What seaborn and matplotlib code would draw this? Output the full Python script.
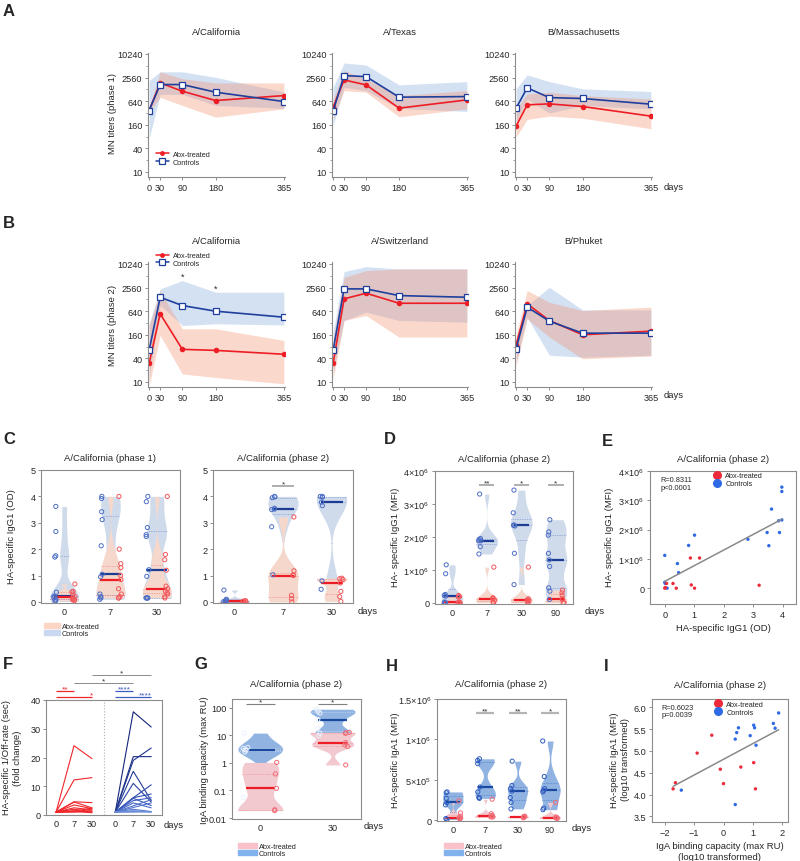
import matplotlib
matplotlib.use("Agg")
import matplotlib.pyplot as plt
from matplotlib.lines import Line2D
from matplotlib.patches import Patch
import matplotlib.ticker as mticker
import pandas as pd
import seaborn as sns

sns.set_style("ticks")
plt.rcParams["font.family"] = ["Liberation Sans", "DejaVu Sans"]
plt.rcParams["mathtext.fontset"] = "custom"
plt.rcParams["mathtext.rm"] = "Liberation Sans"
plt.rcParams["mathtext.it"] = "Liberation Sans:italic"

# ---------------- data ----------------
# A / B : MN titers (geometric mean with range band)
days = [0, 30, 90, 180, 365]
titre_ticks = [10, 40, 160, 640, 2560, 10240]
titre_minor = [20, 80, 320, 1280, 5120]

a1_abx = [370, 1870, 1150, 665, 890]
a1_abx_lo = [330, 800, 500, 250, 410]
a1_abx_hi = [410, 3600, 2400, 1870, 1870]
a1_ctl = [370, 1700, 1700, 1085, 627]
a1_ctl_lo = [70, 950, 960, 500, 420]
a1_ctl_hi = [2150, 3600, 3600, 2600, 1100]

a2_abx = [450, 2230, 1670, 425, 690]
a2_abx_lo = [227, 1190, 1085, 256, 408]
a2_abx_hi = [730, 3850, 2370, 890, 1190]
a2_ctl = [356, 2880, 2710, 810, 840]
a2_ctl_lo = [154, 1450, 1190, 420, 350]
a2_ctl_hi = [1450, 6050, 5370, 1670, 2020]

a3_abx = [148, 516, 547, 468, 266]
a3_abx_lo = [78, 219, 266, 235, 127]
a3_abx_hi = [408, 985, 1085, 890, 730]
a3_ctl = [425, 1400, 790, 750, 537]
a3_ctl_lo = [187, 730, 320, 496, 408]
a3_ctl_hi = [1320, 3000, 2020, 1320, 1130]

b1_abx = [30, 547, 68, 64, 51]
b1_abx_lo = [8, 154, 16, 13, 9]
b1_abx_hi = [276, 2150, 227, 227, 115]
b1_ctl = [64, 1450, 890, 640, 450]
b1_ctl_lo = [12, 900, 276, 305, 285]
b1_ctl_hi = [305, 2370, 3850, 1950, 1950]

b2_abx = [30, 1320, 1840, 1020, 1020]
b2_abx_lo = [12, 370, 496, 140, 140]
b2_abx_hi = [127, 4680, 6940, 7650, 7650]
b2_ctl = [64, 2370, 2370, 1600, 1450]
b2_ctl_lo = [18, 370, 604, 370, 336]
b2_ctl_hi = [187, 6530, 8750, 7650, 7650]

b3_abx = [89, 985, 370, 160, 198]
b3_abx_lo = [26, 408, 140, 39, 46]
b3_abx_hi = [154, 2150, 1080, 665, 810]
b3_ctl = [70, 810, 356, 176, 176]
b3_ctl_lo = [32, 450, 48, 43, 48]
b3_ctl_hi = [127, 890, 2610, 690, 690]

# C : HA-specific IgG1 (OD)
c_days = ["0", "7", "30"]
c1_ctl = [[3.62, 2.67, 1.75, 1.7, 0.37, 0.22, 0.2, 0.15, 0.1, 0.05, 0.02],
          [4.0, 3.92, 3.42, 3.12, 2.13, 1.05, 0.95, 0.3, 0.2, 0.15, 0.1],
          [4.0, 3.8, 2.82, 2.55, 2.48, 1.22, 0.97, 0.15, 0.15, 0.15, 0.15]]
c1_abx = [[0.68, 0.4, 0.38, 0.3, 0.2, 0.15, 0.12, 0.1, 0.08, 0.05],
          [4.0, 2.0, 1.45, 1.3, 1.0, 0.85, 0.5, 0.3, 0.2, 0.15, 0.15],
          [4.0, 1.8, 1.6, 1.2, 0.6, 0.5, 0.4, 0.35, 0.3, 0.2, 0.15]]
c2_ctl = [[0.45, 0.1, 0.08, 0.05, 0.02, 0.0, 0.0],
          [4.0, 3.98, 3.95, 3.55, 3.52, 3.5, 2.85, 1.03],
          [4.0, 4.0, 3.97, 3.78, 3.65, 0.8, 0.48]]
c2_abx = [[0.05, 0.03, 0.02, 0.0, 0.0],
          [3.22, 1.18, 1.02, 1.0, 0.25, 0.12, 0.0],
          [0.9, 0.88, 0.85, 0.72, 0.4, 0.2, 0.02]]

# D : HA-specific IgG1 (MFI)
d_days = ["0", "7", "30", "90"]
d_ctl = [[1.15e6, 0.88e6, 0.25e6, 0.22e6, 0.2e6, 0.02e6, 0, 0],
         [3.3e6, 1.95e6, 1.92e6, 1.88e6, 1.88e6, 1.7e6, 1.48e6],
         [3.42e6, 2.73e6, 2.36e6, 2.35e6, 2.33e6, 1.5e6, 0.55e6],
         [2.52e6, 2.15e6, 2.05e6, 1.5e6, 1.3e6, 1.1e6, 0.45e6, 0.35e6, 0.1e6]]
d_abx = [[0.22e6, 0.18e6, 0.17e6, 0.02e6, 0, 0, 0],
         [1.08e6, 0.15e6, 0.12e6, 0.12e6, 0.08e6, 0.02e6, 0],
         [1.08e6, 0.12e6, 0.08e6, 0.08e6, 0.05e6, 0.02e6, 0],
         [0.38e6, 0.3e6, 0.22e6, 0.12e6, 0.1e6, 0, 0]]

# E : OD vs MFI
e_abx_x = [0.0, 0.06, 0.28, 0.39, 0.87, 0.90, 1.01, 1.18, 3.20, 0.02]
e_abx_y = [0.0, 0.16e6, 0.16e6, 0.0, 1.03e6, 0.11e6, 0.0, 1.03e6, 0.10e6, 0.02e6]
e_ctl_x = [0.0, 0.43, 0.47, 0.81, 1.01, 2.82, 3.47, 3.53, 3.62, 3.86, 3.89,
           3.97, 3.97, 3.97, 0.0, 0.08, 0.02]
e_ctl_y = [1.12e6, 0.84e6, 0.53e6, 1.46e6, 1.81e6, 1.67e6, 1.90e6, 1.45e6,
           2.70e6, 2.30e6, 1.90e6, 2.33e6, 3.30e6, 3.45e6, 0.20e6, 0.0, 0.16e6]

# F : 1/off-rate fold change per subject (day 0, 7, 30)
f_days = ["0", "7", "30"]
f_abx = [[1, 24.1, 19.6], [1, 12.2, 13.0], [1, 4.6, 4.3], [1, 4.5, 2.5],
         [1, 3.5, 2.2], [1, 2.5, 1.8], [1, 2.0, 1.2], [1, 1.5, 1.0],
         [1, 1.2, 0.8], [1, 1.0, 1.5], [1, 1.3, 2.4]]
f_ctl = [[1, 35.9, 30.6], [1, 20.3, 20.3], [1, 19.0, 23.3], [1, 15.2, 5.0],
         [1, 11.0, 4.5], [1, 6.0, 10.5], [1, 6.0, 7.3], [1, 5.8, 3.3],
         [1, 5.0, 6.0], [1, 4.2, 2.5], [1, 3.2, 5.3], [1, 2.6, 4.2],
         [1, 2.0, 1.2], [1, 1.5, 1.1], [1, 1.2, 1.0], [1, 1.0, 1.2]]

# G : IgA binding capacity (max RU)
g_days = ["0", "30"]
g_ctl = [[12.2, 3.7, 3.4, 3.0, 2.96, 2.5, 0.057],
         [90, 75, 65, 38, 18, 12, 9.8]]
g_abx = [[1.05, 0.4, 0.12, 0.02, 0.0186],
         [13, 12.5, 12, 5.5, 4.5, 4.0, 0.85]]

# H : HA-specific IgA1 (MFI)
h_days = ["0", "7", "30", "90"]
h_ctl = [[3.5e5, 3.4e5, 2.7e5, 2.2e5, 1.9e5, 0.2e5, 0.1e5],
         [7.6e5, 7.4e5, 7.0e5, 4.1e5, 3.5e5, 2.8e5, 2.7e5],
         [7.3e5, 4.3e5, 3.9e5, 3.6e5, 2.8e5, 2.2e5, 1.4e5],
         [9.8e5, 5.4e5, 3.9e5, 3.7e5, 3.5e5, 1.5e5, 1.3e5]]
h_abx = [[2.4e5, 0.9e5, 0.5e5, 0.3e5, 0.3e5, 0.2e5, 0.2e5],
         [2.6e5, 0.8e5, 0.6e5, 0.5e5, 0.5e5, 0.4e5, 0.4e5],
         [0.5e5, 0.45e5, 0.4e5, 0.35e5, 0.3e5],
         [2.2e5, 0.4e5, 0.3e5, 0.3e5, 0.2e5]]

# I : log10 IgA capacity vs log10 IgA1 MFI
i_abx_x = [-1.72, -1.64, -0.90, -0.40, -0.11, 0.0, 0.59, 1.03, 1.09]
i_abx_y = [4.13, 4.27, 4.95, 5.36, 4.58, 4.25, 4.63, 4.73, 4.13]
i_ctl_x = [-1.44, 0.40, 0.40, 0.45, 0.51, 0.91, 1.03, 1.06, 1.11, 1.70, 1.76, 1.88]
i_ctl_y = [4.10, 3.77, 5.27, 5.42, 5.53, 5.35, 5.59, 5.53, 5.13, 5.63, 5.52, 5.87]

# ---------------- style ----------------
RED = "#ee1d25"
BLUE = "#1f3f9c"
RED_BAND = "#f3906e"
BLUE_BAND = "#86aade"
SPINE = "#8c8c8c"
GROUPS = ["Controls", "Abx-treated"]
TICK_FS = 6.6
LAB_FS = 6.8

W, H = 800, 862
fig = plt.figure(figsize=(8, 8.62), dpi=100)


def add_ax(l, t, r, b):
    return fig.add_axes([l / W, 1 - b / H, (r - l) / W, (b - t) / H])


def fig_text(x, y, s, **kw):
    fig.text(x / W, 1 - y / H, s, **kw)


def style_ax(ax, box=True):
    for side, sp in ax.spines.items():
        sp.set_color(SPINE)
        sp.set_linewidth(0.8)
        if not box and side in ("top", "right"):
            sp.set_visible(False)
    ax.tick_params(labelsize=TICK_FS, color=SPINE, length=2.5, width=0.7, pad=1.5)
    ax.tick_params(axis="x", length=0, pad=3)
    ax.set_xlabel("")
    ax.set_ylabel("")


def bracket(ax, x0, x1, y, text, color="#a8a8a8", lw=1.3, tcolor="#333333"):
    ax.plot([x0, x1], [y, y], color=color, lw=lw, clip_on=False,
            solid_capstyle="butt")
    ax.annotate(text, xy=((x0 + x1) / 2, y), xytext=(0, -1.2),
                textcoords="offset points", ha="center", va="bottom",
                fontsize=6, color=tcolor, annotation_clip=False)


# ---------------- A / B ----------------
def titre_panel(ax, title, abx, abx_lo, abx_hi, ctl, ctl_lo, ctl_hi, ylim):
    ax.fill_between(days, ctl_lo, ctl_hi, color=BLUE_BAND, alpha=0.35, lw=0)
    ax.fill_between(days, abx_lo, abx_hi, color=RED_BAND, alpha=0.35, lw=0)
    sns.lineplot(x=days, y=abx, ax=ax, color=RED, marker="o", markersize=4,
                 markeredgewidth=0, lw=1.2)
    sns.lineplot(x=days, y=ctl, ax=ax, color=BLUE, marker="s", markersize=4.2,
                 markerfacecolor="white", markeredgecolor=BLUE,
                 markeredgewidth=0.9, lw=1.2)
    ax.set_yscale("log", base=2)
    ax.set_ylim(*ylim)
    ax.set_xlim(-3, 368)
    ax.set_yticks(titre_ticks, [str(t) for t in titre_ticks])
    ax.yaxis.set_minor_locator(mticker.FixedLocator(titre_minor))
    ax.yaxis.set_minor_formatter(mticker.NullFormatter())
    ax.set_xticks(days, [str(d) for d in days])
    style_ax(ax, box=False)
    ax.tick_params(axis="x", length=2.5, pad=2)
    ax.tick_params(axis="y", which="minor", length=1.5, color=SPINE)
    ax.set_title(title, fontsize=LAB_FS, pad=14)


cols = [(148, 285), (332, 468), (515, 652)]
a_sets = [("A/California", a1_abx, a1_abx_lo, a1_abx_hi, a1_ctl, a1_ctl_lo, a1_ctl_hi),
          ("A/Texas", a2_abx, a2_abx_lo, a2_abx_hi, a2_ctl, a2_ctl_lo, a2_ctl_hi),
          ("B/Massachusetts", a3_abx, a3_abx_lo, a3_abx_hi, a3_ctl, a3_ctl_lo, a3_ctl_hi)]
b_sets = [("A/California", b1_abx, b1_abx_lo, b1_abx_hi, b1_ctl, b1_ctl_lo, b1_ctl_hi),
          ("A/Switzerland", b2_abx, b2_abx_lo, b2_abx_hi, b2_ctl, b2_ctl_lo, b2_ctl_hi),
          ("B/Phuket", b3_abx, b3_abx_lo, b3_abx_hi, b3_ctl, b3_ctl_lo, b3_ctl_hi)]

leg_handles = [Line2D([], [], color=RED, marker="o", markersize=3.5, lw=1.1,
                      markeredgewidth=0, label="Abx-treated"),
               Line2D([], [], color=BLUE, marker="s", markersize=3.8, lw=1.1,
                      markerfacecolor="white", markeredgewidth=0.9, label="Controls")]

a_axes = []
for (l, r), spec in zip(cols, a_sets):
    ax = add_ax(l, 54, r, 178)
    titre_panel(ax, *spec, ylim=(7.45, 10850))
    a_axes.append(ax)
b_axes = []
for (l, r), spec in zip(cols, b_sets):
    ax = add_ax(l, 263, r, 388)
    titre_panel(ax, *spec, ylim=(7.45, 11500))
    b_axes.append(ax)

a_axes[0].legend(handles=leg_handles, loc="lower left", bbox_to_anchor=(0.03, 0.06),
                 frameon=False, fontsize=5.3, handlelength=1.8, labelspacing=0.1,
                 borderpad=0, handletextpad=0.5)
b_axes[0].legend(handles=leg_handles, loc="lower left", bbox_to_anchor=(0.03, 0.93),
                 frameon=False, fontsize=5.3, handlelength=1.8, labelspacing=0.1,
                 borderpad=0, handletextpad=0.5)
b_axes[0].text(90, 5000, "*", ha="center", va="center", fontsize=6.5)
b_axes[0].text(180, 2500, "*", ha="center", va="center", fontsize=6.5)

fig_text(113, 114, "MN titers (phase 1)", rotation=90, ha="center", va="center", fontsize=LAB_FS)
fig_text(113, 325, "MN titers (phase 2)", rotation=90, ha="center", va="center", fontsize=LAB_FS)
fig_text(664, 187, "days", ha="left", va="center", fontsize=LAB_FS)
fig_text(664, 396, "days", ha="left", va="center", fontsize=LAB_FS)


# ---------------- violin panels ----------------
def violin_panel(ax, cats, ctl, abx, fills, pts, meds, log=False, box_w=0.45):
    rows = []
    for c, vals in zip(cats, ctl):
        rows += [(c, "Controls", v) for v in vals]
    for c, vals in zip(cats, abx):
        rows += [(c, "Abx-treated", v) for v in vals]
    df = pd.DataFrame(rows, columns=["day", "group", "value"])
    common = dict(x="day", y="value", hue="group", order=cats,
                  hue_order=GROUPS, legend=False, ax=ax)
    if log:
        common["log_scale"] = True
    for g in GROUPS:
        sub = df[df.group == g]
        sns.violinplot(data=sub, palette=fills, cut=0, inner="quart",
                       inner_kws=dict(color=pts[g], linewidth=0.5, dashes=(1.0, 1.5),
                                      alpha=0.8),
                       linewidth=0, width=0.62, density_norm="width",
                       bw_adjust=0.55, **common)
    for g in GROUPS:
        sub = df[df.group == g]
        sns.boxplot(data=sub, palette=fills, showbox=False, showcaps=False,
                    showfliers=False, whis=0, whiskerprops=dict(linewidth=0),
                    medianprops=dict(color=meds[g], linewidth=1.6),
                    width=box_w, **common)
        n = len(ax.collections)
        sns.stripplot(data=sub, palette=pts, dodge=True, jitter=0.07, size=3,
                      linewidth=0.7, **common)
        for coll in ax.collections[n:]:
            coll.set_edgecolor(pts[g])
            coll.set_facecolor("none")
    style_ax(ax)


c_fill = {"Controls": "#cad9f0", "Abx-treated": "#fcd5c4"}
c_pts = {"Controls": "#4d6fc6", "Abx-treated": "#f3585c"}
c_med = {"Controls": "#1c3c94", "Abx-treated": RED}

# C
ax_c1 = add_ax(41, 471, 180, 604)
violin_panel(ax_c1, c_days, c1_ctl, c1_abx, c_fill, c_pts, c_med)
ax_c2 = add_ax(213, 471, 353, 604)
violin_panel(ax_c2, c_days, c2_ctl, c2_abx, c_fill, c_pts, c_med)
for ax, t in [(ax_c1, "A/California (phase 1)"), (ax_c2, "A/California (phase 2)")]:
    ax.set_ylim(-0.04, 5)
    ax.set_yticks([0, 1, 2, 3, 4, 5])
    ax.set_title(t, fontsize=LAB_FS, pad=7)
bracket(ax_c2, 0.78, 1.22, 4.4, "*")
fig_text(12, 537, "HA-specific IgG1 (OD)", rotation=90, ha="center", va="center", fontsize=LAB_FS)
fig_text(358, 612, "days", ha="left", va="center", fontsize=LAB_FS)
fig.legend(handles=[Patch(color=c_fill["Abx-treated"], label="Abx-treated"),
                    Patch(color=c_fill["Controls"], label="Controls")],
           loc="upper left", bbox_to_anchor=(40 / W, 1 - 620 / H), frameon=False,
           fontsize=5.3, handlelength=2.2, handleheight=0.7, labelspacing=0.05,
           borderpad=0, handletextpad=0.3)

# D
ax_d = add_ax(435, 472, 573, 605)
violin_panel(ax_d, d_days, d_ctl, d_abx, c_fill, c_pts, c_med)
ax_d.set_ylim(-0.04e6, 4e6)
mfi_ticks = [0, 1e6, 2e6, 3e6, 4e6]
mfi_labels = ["0", r"1×10$^6$", r"2×10$^6$", r"3×10$^6$", r"4×10$^6$"]
ax_d.set_yticks(mfi_ticks, mfi_labels)
ax_d.set_title("A/California (phase 2)", fontsize=LAB_FS, pad=7)
for i, s in zip([1, 2, 3], ["**", "*", "*"]):
    bracket(ax_d, i - 0.22, i + 0.22, 3.58e6, s)
fig_text(395, 537, "HA- specific IgG1 (MFI)", rotation=90, ha="center", va="center", fontsize=LAB_FS)
fig_text(585, 612, "days", ha="left", va="center", fontsize=LAB_FS)

# E
ax_e = add_ax(650, 472, 796, 605)
e_df = pd.DataFrame({"x": e_ctl_x + e_abx_x, "y": e_ctl_y + e_abx_y,
                     "group": ["Controls"] * len(e_ctl_x) + ["Abx-treated"] * len(e_abx_x)})
sc_pal = {"Controls": "#2f6ae6", "Abx-treated": "#ec2a3a"}
sns.regplot(data=e_df, x="x", y="y", scatter=False, ci=None, color="#8a8a8a",
            line_kws=dict(lw=1.1), ax=ax_e)
sns.scatterplot(data=e_df, x="x", y="y", hue="group", palette=sc_pal, s=6,
                linewidth=0, legend=False, ax=ax_e)
ax_e.set_xlim(-0.5, 4.45)
ax_e.set_ylim(-0.54e6, 4e6)
ax_e.set_xticks([0, 1, 2, 3, 4])
ax_e.set_yticks(mfi_ticks, mfi_labels)
style_ax(ax_e)
ax_e.tick_params(axis="x", length=2.5, pad=2)
ax_e.set_title("A/California (phase 2)", fontsize=LAB_FS, pad=7)
ax_e.set_xlabel("HA-specific IgG1 (OD)", fontsize=LAB_FS, labelpad=3)
ax_e.text(0.07, 0.96, "R=0.8311\np<0.0001", transform=ax_e.transAxes, fontsize=5.3,
          va="top", ha="left", linespacing=1.1)
sc_handles = [Line2D([], [], lw=0, marker="o", markersize=5.5, color=sc_pal["Abx-treated"],
                     label="Abx-treated"),
              Line2D([], [], lw=0, marker="o", markersize=5.5, color=sc_pal["Controls"],
                     label="Controls")]
ax_e.legend(handles=sc_handles, loc="upper left", bbox_to_anchor=(0.37, 1.03),
            frameon=False, fontsize=5.3, labelspacing=0.1, handletextpad=0.2,
            borderpad=0.2)
fig_text(610, 537, "HA- specific IgG1 (MFI)", rotation=90, ha="center", va="center", fontsize=LAB_FS)

# F
ax_f = add_ax(46, 701, 162, 816)
f_rows = []
for k, subj in enumerate(f_abx):
    for j, v in enumerate(subj):
        f_rows.append(("abx%d" % k, "Abx-treated", j, v))
for k, subj in enumerate(f_ctl):
    for j, v in enumerate(subj):
        f_rows.append(("ctl%d" % k, "Controls", j + 3.3, v))
f_df = pd.DataFrame(f_rows, columns=["subject", "group", "pos", "value"])
f_abx_df = f_df[f_df.group == "Abx-treated"]
f_ctl_df = f_df[f_df.group == "Controls"]
sns.lineplot(data=f_abx_df, x="pos", y="value", units="subject", estimator=None,
             color="#f0262a", lw=0.8, ax=ax_f)
sns.lineplot(data=f_ctl_df, x="pos", y="value", hue="subject", estimator=None,
             palette=sns.blend_palette(["#14257a", "#3a5cc0", "#6d8fd8"], len(f_ctl)),
             lw=0.8, legend=False, ax=ax_f)
ax_f.axvline(2.65, color="#b0b0b0", lw=0.8, ls=":")
ax_f.set_xlim(-0.56, 5.9)
ax_f.set_ylim(0, 40)
ax_f.set_xticks([0, 1, 2, 3.3, 4.3, 5.3], f_days + f_days)
ax_f.set_yticks([0, 10, 20, 30, 40])
style_ax(ax_f)
bracket(ax_f, 0, 1, 43.1, "**", color="#f0262a", lw=0.9, tcolor="#f0262a")
bracket(ax_f, 0, 2, 41.0, "", color="#f0262a", lw=0.9)
ax_f.annotate("*", xy=(1.95, 41.0), xytext=(0, -1.2), textcoords="offset points",
              ha="center", va="bottom", fontsize=6, color="#f0262a", annotation_clip=False)
bracket(ax_f, 3.3, 4.3, 43.1, "****", color="#3a5cc0", lw=0.9, tcolor="#3a5cc0")
bracket(ax_f, 3.3, 5.3, 41.0, "", color="#3a5cc0", lw=0.9)
ax_f.annotate("****", xy=(4.95, 41.0), xytext=(0, -1.2), textcoords="offset points",
              ha="center", va="bottom", fontsize=6, color="#3a5cc0", annotation_clip=False)
bracket(ax_f, 1, 4.3, 45.9, "*", color="#8a8a8a", lw=0.7)
bracket(ax_f, 2, 5.3, 48.7, "*", color="#8a8a8a", lw=0.7)
fig_text(12, 758, "HA-specific 1/Off-rate (sec)\n(fold change)", rotation=90,
         ha="center", va="center", fontsize=LAB_FS, multialignment="center")
fig_text(164, 826, "days", ha="left", va="center", fontsize=LAB_FS)

# G
g_fill = {"Controls": "#82b2ee", "Abx-treated": "#f9c2ca"}
g_pts = {"Controls": "#e8f0ff", "Abx-treated": "#f26b76"}
g_med = {"Controls": "#1a4aa0", "Abx-treated": RED}
ax_g = add_ax(232, 700, 361, 820)
violin_panel(ax_g, g_days, g_ctl, g_abx, g_fill, g_pts, g_med, log=True, box_w=0.4)
ax_g.set_ylim(0.0092, 212)
ax_g.set_yticks([0.01, 0.1, 1, 10, 100], ["0.01", "0.1", "1", "10", "100"])
ax_g.yaxis.set_minor_locator(mticker.NullLocator())
ax_g.set_title("A/California (phase 2)", fontsize=LAB_FS, pad=9)
bracket(ax_g, -0.2, 0.2, 140, "*", lw=0.8, color="#808080")
bracket(ax_g, 0.8, 1.2, 140, "*", lw=0.8, color="#808080")
fig_text(205, 760, "IgA binding capacity (max RU)", rotation=90, ha="center",
         va="center", fontsize=LAB_FS)
fig_text(364, 827, "days", ha="left", va="center", fontsize=LAB_FS)
fig.legend(handles=[Patch(color=g_fill["Abx-treated"], label="Abx-treated"),
                    Patch(color=g_fill["Controls"], label="Controls")],
           loc="upper left", bbox_to_anchor=(234 / W, 1 - 840 / H), frameon=False,
           fontsize=5.3, handlelength=2.6, handleheight=0.7, labelspacing=0.05,
           borderpad=0, handletextpad=0.3)

# H
h_pts = {"Controls": "#2f5cc0", "Abx-treated": "#f26b76"}
ax_h = add_ax(437, 700, 566, 822)
violin_panel(ax_h, h_days, h_ctl, h_abx, g_fill, h_pts, g_med, box_w=0.45)
ax_h.set_ylim(-0.01e6, 1.5e6)
ax_h.set_yticks([0, 5e5, 1e6, 1.5e6], ["0", r"5×10$^5$", r"1×10$^6$", r"1.5×10$^6$"])
ax_h.set_title("A/California (phase 2)", fontsize=LAB_FS, pad=9)
for i, s in zip([1, 2, 3], ["**", "**", "*"]):
    bracket(ax_h, i - 0.28, i + 0.28, 1.33e6, s, lw=1.6, color="#b5b5b5")
fig_text(396, 760, "HA-specific IgA1 (MFI)", rotation=90, ha="center", va="center", fontsize=LAB_FS)
fig_text(572, 829, "days", ha="left", va="center", fontsize=LAB_FS)
fig.legend(handles=[Patch(color=g_fill["Abx-treated"], label="Abx-treated"),
                    Patch(color=g_fill["Controls"], label="Controls")],
           loc="upper left", bbox_to_anchor=(440 / W, 1 - 840 / H), frameon=False,
           fontsize=5.3, handlelength=2.6, handleheight=0.7, labelspacing=0.05,
           borderpad=0, handletextpad=0.3)

# I
ax_i = add_ax(652, 700, 788, 823)
i_df = pd.DataFrame({"x": i_ctl_x + i_abx_x, "y": i_ctl_y + i_abx_y,
                     "group": ["Controls"] * len(i_ctl_x) + ["Abx-treated"] * len(i_abx_x)})
sns.regplot(data=i_df, x="x", y="y", scatter=False, ci=None, color="#8a8a8a",
            line_kws=dict(lw=1.1), ax=ax_i)
sns.scatterplot(data=i_df, x="x", y="y", hue="group", palette=sc_pal, s=6,
                linewidth=0, legend=False, ax=ax_i)
ax_i.set_xlim(-2.44, 2.2)
ax_i.set_ylim(3.37, 6.19)
ax_i.set_xticks([-2, -1, 0, 1, 2])
ax_i.set_yticks([3.5, 4.0, 4.5, 5.0, 5.5, 6.0], ["3.5", "4.0", "4.5", "5.0", "5.5", "6.0"])
style_ax(ax_i)
ax_i.tick_params(axis="x", length=2.5, pad=2)
ax_i.set_title("A/California (phase 2)", fontsize=LAB_FS, pad=9)
ax_i.set_xlabel("IgA binding capacity (max RU)\n(log10 transformed)", fontsize=LAB_FS,
                labelpad=3)
ax_i.text(0.07, 0.96, "R=0.6023\np=0.0039", transform=ax_i.transAxes, fontsize=5.3,
          va="top", ha="left", linespacing=1.1)
ax_i.legend(handles=sc_handles, loc="upper left", bbox_to_anchor=(0.39, 1.03),
            frameon=False, fontsize=5.3, labelspacing=0.1, handletextpad=0.2,
            borderpad=0.2)
fig_text(620, 760, "HA-specific IgA1 (MFI)\n(log10 transformed)", rotation=90,
         ha="center", va="center", fontsize=LAB_FS, multialignment="center")

# panel letters
for letter, x, y in [("A", 3, 12), ("B", 3, 223), ("C", 3, 440), ("D", 384, 440),
                     ("E", 602, 442), ("F", 3, 665), ("G", 194, 665), ("H", 386, 667),
                     ("I", 604, 667)]:
    fig_text(x, y, letter, ha="left", va="center", fontsize=12, fontweight="bold")

fig.savefig("out.png", dpi=100)
